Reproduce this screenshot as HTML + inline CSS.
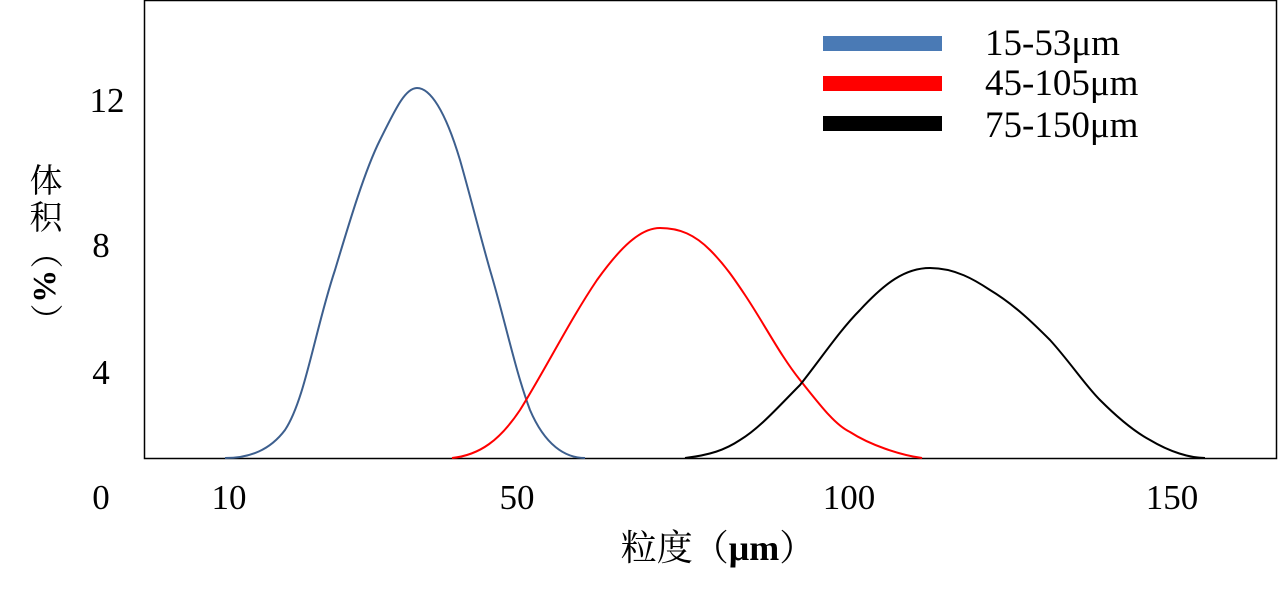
<!DOCTYPE html>
<html><head><meta charset="utf-8"><style>
html,body{margin:0;padding:0;background:#fff;}
svg{display:block;}
text{font-family:"Liberation Serif","Noto Serif CJK SC",serif;}
</style></head><body>
<svg width="1279" height="591" viewBox="0 0 1279 591" xmlns="http://www.w3.org/2000/svg">
<rect x="144.5" y="0.5" width="1132" height="458" fill="none" stroke="#000" stroke-width="1.5"/>
<path d="M225,458 C250,458 270,450 285,430 C305,400 315,330 335,270 C350,220 365,170 380,140 C395,110 405,88 417,88 C430,88 445,110 460,160 C470,195 480,235 490,270 C505,320 515,370 530,410 C545,445 565,458 585,458" fill="none" stroke="#3d5f8e" stroke-width="2"/>
<path d="M452,458 C480,455 500,440 520,410 C545,370 570,320 597,280 C620,248 640,228 660,228 C680,228 695,235 710,250 C725,265 735,280 745,295 C765,325 780,355 800,380 C820,405 835,425 850,432 C870,445 900,455 922,458" fill="none" stroke="#f00" stroke-width="2"/>
<path d="M685,458 C710,455 725,450 740,440 C760,428 780,405 800,385 C820,360 840,330 860,310 C885,283 905,268 930,268 C955,268 975,280 990,290 C1015,305 1035,325 1050,340 C1070,362 1085,385 1100,400 C1120,420 1135,432 1150,440 C1170,452 1190,458 1205,458" fill="none" stroke="#000" stroke-width="2"/>
<rect x="823" y="36" width="119" height="15" fill="#4a7ab5"/>
<rect x="823" y="76" width="119" height="15" fill="#f00"/>
<rect x="823" y="116" width="119" height="15" fill="#000"/>
<g font-size="37" fill="#000">
<text x="985" y="55">15-53μm</text>
<text x="985" y="95">45-105μm</text>
<text x="985" y="137">75-150μm</text>
</g>
<g font-size="35" fill="#000" text-anchor="middle">
<text x="107" y="112">12</text>
<text x="101" y="257">8</text>
<text x="101" y="384">4</text>
<text x="101" y="509">0</text>
<text x="229" y="509">10</text>
<text x="517" y="509">50</text>
<text x="849" y="509">100</text>
<text x="1172" y="509">150</text>
</g>
<text x="718" y="560" font-size="36" text-anchor="middle">粒度（<tspan font-weight="bold">μm</tspan>）</text>
<g font-size="33" text-anchor="middle">
<text x="46" y="192">体</text>
<text x="46" y="229">积</text>
<text x="46" y="264" transform="rotate(90 46 252)">（</text>
<text x="46" y="298" font-weight="bold" transform="rotate(90 46 286)">%</text>
<text x="46" y="332" transform="rotate(90 46 320)">）</text>
</g>
</svg>
</body></html>
